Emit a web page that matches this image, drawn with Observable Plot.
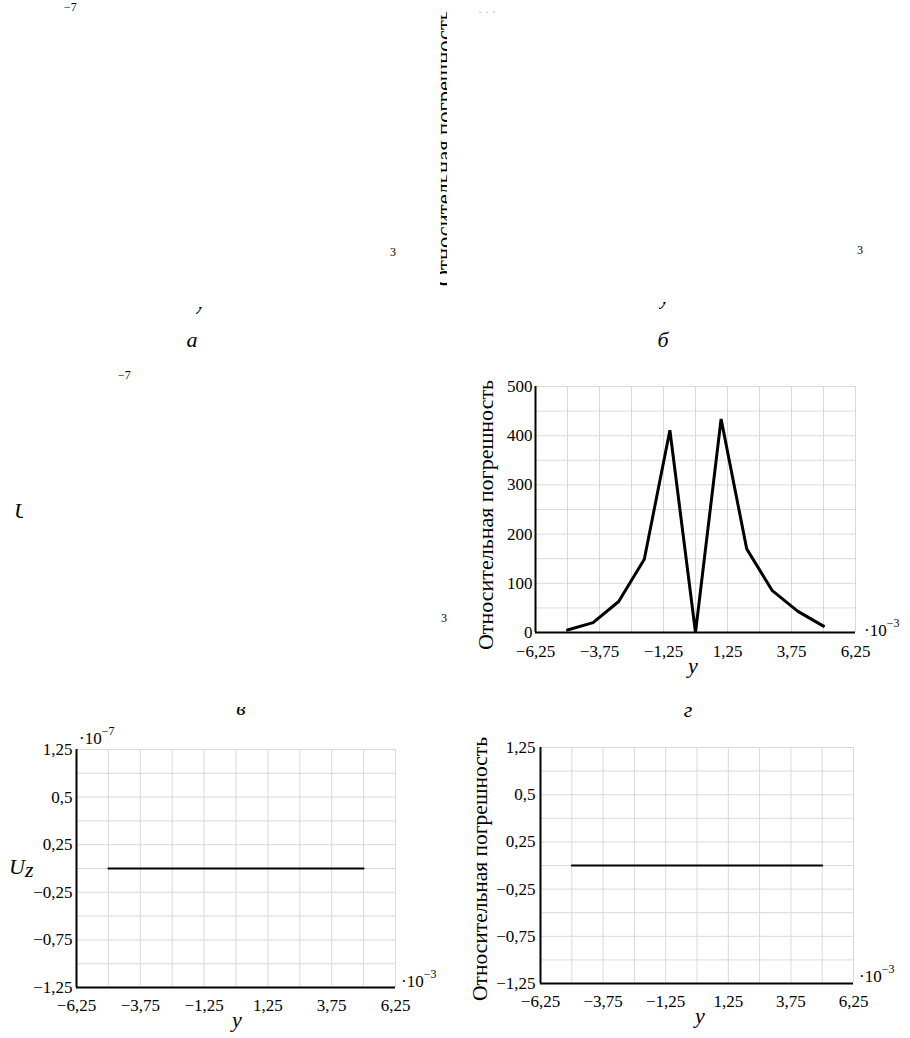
<!DOCTYPE html>
<html>
<head>
<meta charset="utf-8">
<script src="https://cdn.jsdelivr.net/npm/d3@7"></script>
<script src="https://cdn.jsdelivr.net/npm/@observablehq/plot@0.6"></script>
<style>
  html, body { margin: 0; padding: 0; background: #fff; }
  #page { position: relative; width: 910px; height: 1038px; overflow: hidden; background: #fff;
          font-family: "Liberation Serif", "Times New Roman", serif; }
  .panel { position: absolute; }
  .panel svg { max-width: none !important; display: block; }
  #overlay { position: absolute; left: 0; top: 0; pointer-events: none; }
</style>
</head>
<body>
<div id="page"></div>
<script>
// ---------------- data ----------------
// shared y-coordinate (×10^-3) ticks and grid
const xTicks = [-6.25, -3.75, -1.25, 1.25, 3.75, 6.25];
const xTickLabels = ["−6,25", "−3,75", "−1,25", "1,25", "3,75", "6,25"];
const xGrid = [-6.25, -5, -3.75, -2.5, -1.25, 0, 1.25, 2.5, 3.75, 5, 6.25];

// panel г : relative error
const errY = [-5, -4, -3, -2, -1, 0, 1, 2, 3, 4, 5];
const errVal = [5, 20, 63, 149, 411, 0, 434, 170, 85, 43, 13];
const errTicks = [0, 100, 200, 300, 400, 500];
const errTickLabels = ["0", "100", "200", "300", "400", "500"];
const errGrid = [0, 50, 100, 150, 200, 250, 300, 350, 400, 450, 500];

// bottom panels : U_z (×10^-7) and relative error, both flat
const flatY = [-5, -4, -3, -2, -1, 0, 1, 2, 3, 4, 5];
const uzVal = [0, 0, 0, 0, 0, 0, 0, 0, 0, 0, 0];
const relErrVal = [0, 0, 0, 0, 0, 0, 0, 0, 0, 0, 0];
const symTicks = [-1.25, -0.75, -0.25, 0.25, 0.75, 1.25];
const symTickLabels = ["−1,25", "−0,75", "−0,25", "0,25", "0,5", "1,25"];
const symGrid = [-1.25, -1, -0.75, -0.5, -0.25, 0, 0.25, 0.5, 0.75, 1, 1.25];

// ---------------- helpers ----------------
const FONT = '"Liberation Serif", "Times New Roman", serif';
const page = document.getElementById("page");

function addPanel(left, top, plot) {
  const d = document.createElement("div");
  d.className = "panel";
  d.style.left = left + "px";
  d.style.top = top + "px";
  d.appendChild(plot);
  page.appendChild(d);
}

function panel({width, height, margins, yDomain, yTicks, yLabels, yGrid, rows, strokeWidth, tickPadY, tickPadX}) {
  const fmtX = d => xTickLabels[xTicks.indexOf(d)];
  const fmtY = d => yLabels[yTicks.indexOf(d)];
  return Plot.plot({
    width, height,
    marginLeft: margins[0], marginRight: margins[1], marginTop: margins[2], marginBottom: margins[3],
    style: {fontFamily: FONT, fontSize: "17px", color: "#000", background: "transparent", overflow: "visible"},
    x: {domain: [-6.25, 6.25]},
    y: {domain: yDomain},
    marks: [
      Plot.gridX(xGrid, {stroke: "#d9d9d9", strokeOpacity: 1, strokeWidth: 1}),
      Plot.gridY(yGrid, {stroke: "#d9d9d9", strokeOpacity: 1, strokeWidth: 1}),
      Plot.axisX(xTicks, {tickSize: 0, tickPadding: tickPadX, tickFormat: fmtX, label: null, fontSize: 17}),
      Plot.axisY(yTicks, {tickSize: 0, tickPadding: tickPadY, tickFormat: fmtY, label: null, fontSize: 17}),
      Plot.ruleY([yDomain[0]], {stroke: "#000", strokeWidth: 2}),
      Plot.ruleX([-6.25], {stroke: "#000", strokeWidth: 2}),
      Plot.line(rows, {x: "y", y: "v", stroke: "#000", strokeWidth, strokeLinejoin: "miter"})
    ]
  });
}

// ---------------- panel г ----------------
const errRows = errY.map((y, i) => ({y, v: errVal[i]}));
addPanel(460, 370, panel({
  width: 450, height: 322, margins: [75, 55, 16, 60],
  yDomain: [0, 500], yTicks: errTicks, yLabels: errTickLabels, yGrid: errGrid,
  rows: errRows, strokeWidth: 3, tickPadY: 3, tickPadX: 12
}));

// ---------------- bottom-left: U_z ----------------
const uzRows = flatY.map((y, i) => ({y, v: uzVal[i]}));
addPanel(0, 730, panel({
  width: 455, height: 308, margins: [76, 60, 19, 51],
  yDomain: [-1.25, 1.25], yTicks: symTicks, yLabels: symTickLabels, yGrid: symGrid,
  rows: uzRows, strokeWidth: 2, tickPadY: 4, tickPadX: 11
}));

// ---------------- bottom-right: relative error ----------------
const relRows = flatY.map((y, i) => ({y, v: relErrVal[i]}));
addPanel(455, 730, panel({
  width: 455, height: 308, margins: [85, 57, 17, 55],
  yDomain: [-1.25, 1.25], yTicks: symTicks, yLabels: symTickLabels, yGrid: symGrid,
  rows: relRows, strokeWidth: 2, tickPadY: 5, tickPadX: 11
}));

// ---------------- text overlay ----------------
const NS = "http://www.w3.org/2000/svg";
const ov = document.createElementNS(NS, "svg");
ov.setAttribute("id", "overlay");
ov.setAttribute("width", 910);
ov.setAttribute("height", 1038);
ov.style.fontFamily = FONT;
page.appendChild(ov);
const defs = document.createElementNS(NS, "defs");
ov.appendChild(defs);
let clipId = 0;
function clip(x, y, w, h) {
  const id = "c" + (clipId++);
  const cp = document.createElementNS(NS, "clipPath");
  cp.setAttribute("id", id);
  const r = document.createElementNS(NS, "rect");
  r.setAttribute("x", x); r.setAttribute("y", y); r.setAttribute("width", w); r.setAttribute("height", h);
  cp.appendChild(r); defs.appendChild(cp);
  return id;
}
function txt(x, y, s, o = {}) {
  let parent = ov;
  if (o.clip) {
    const g = document.createElementNS(NS, "g");
    g.setAttribute("clip-path", `url(#${o.clip})`);
    ov.appendChild(g);
    parent = g;
  }
  const t = document.createElementNS(NS, "text");
  t.setAttribute("x", x); t.setAttribute("y", y);
  t.setAttribute("font-size", o.size || 17);
  t.setAttribute("fill", o.fill || "#000");
  if (o.italic) t.setAttribute("font-style", "italic");
  if (o.anchor) t.setAttribute("text-anchor", o.anchor);
  if (o.rotate) { t.setAttribute("transform", `rotate(-90 ${x} ${y})`); }
  if (Array.isArray(s)) {
    s.forEach(p => {
      const ts = document.createElementNS(NS, "tspan");
      ts.textContent = p.t;
      if (p.size) ts.setAttribute("font-size", p.size);
      if (p.dy) ts.setAttribute("dy", p.dy);
      if (p.italic) ts.setAttribute("font-style", "italic");
      t.appendChild(ts);
    });
  } else t.textContent = s;
  parent.appendChild(t);
  return t;
}
function sci(x, y, exp) {
  txt(x, y, [{t: "·10"}, {t: exp, size: 12, dy: -9}], {size: 17});
}

// panel г labels
txt(493, 515, "Относительная погрешность", {size: 22, rotate: true, anchor: "middle"});
txt(693, 673, "y", {size: 22, italic: true, anchor: "middle"});
sci(864, 636, "−3");
txt(688, 717, "г", {size: 22, italic: true, anchor: "middle"});

// bottom-left labels
txt(9, 874, [{t: "U"}, {t: "z", dy: 3}], {size: 22, italic: true});
txt(237, 1027, "y", {size: 22, italic: true, anchor: "middle"});
sci(79, 744, "−7");
sci(401, 987, "−3");

// bottom-right labels
txt(487, 869, "Относительная погрешность", {size: 21.5, rotate: true, anchor: "middle"});
txt(700, 1023, "y", {size: 22, italic: true, anchor: "middle"});
sci(859, 982, "−3");

// remnants of the erased upper panels
txt(64, 11, "−7", {size: 12});
txt(390, 256, "3", {size: 12});
txt(192, 347, "а", {size: 22, italic: true, anchor: "middle"});
txt(196, 309, "y", {size: 22, italic: true, clip: clip(196, 307, 10, 10)});
txt(452, 148, "Относительная погрешность", {size: 22.5, rotate: true, anchor: "middle", clip: clip(440, 5, 7, 290)});
txt(478, 16, "· · ·", {size: 12, fill: "#bbb"});
txt(857, 254, "3", {size: 12});
txt(660, 304, "y", {size: 22, italic: true, clip: clip(659, 302, 10, 10)});
txt(663, 347, "б", {size: 22, italic: true, anchor: "middle"});
txt(118, 379, "−7", {size: 12});
txt(14, 518, "U", {size: 22, italic: true, clip: clip(13, 500, 10, 22)});
txt(441, 622, "3", {size: 12});
txt(241, 715, "в", {size: 22, italic: true, anchor: "middle", clip: clip(230, 707, 20, 12)});
</script>
</body>
</html>
